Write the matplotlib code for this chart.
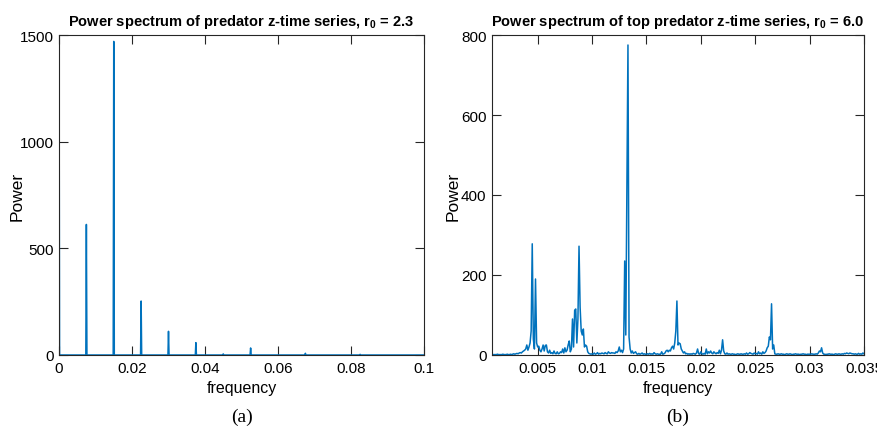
import numpy as np
import matplotlib
matplotlib.use("Agg")
import matplotlib.pyplot as plt

# ---------------- data: panel (a) ----------------
peak_freq_a = [0.0, 0.0075, 0.015, 0.0225, 0.030, 0.0375, 0.045, 0.0525, 0.0675, 0.0825]
peak_power_a = [1600, 612, 1470, 253, 111, 58, 5, 33, 8, 3]
xticks_a = [0, 0.02, 0.04, 0.06, 0.08, 0.1]
xticklabels_a = ["0", "0.02", "0.04", "0.06", "0.08", "0.1"]
yticks_a = [0, 500, 1000, 1500]

# ---------------- data: panel (b) ----------------
# power per 0.0001 frequency bin, one row per 0.001 of frequency (row k starts at k*0.001)
power_rows_b = [
    [1, 1, 1, 1, 1, 1, 1, 1, 1, 1],
    [1, 1, 1, 2, 1, 1, 1, 1, 2, 1],
    [1, 1, 2, 1, 1, 2, 1, 2, 3, 2],
    [3, 4, 3, 5, 6, 5, 8, 10, 12, 15],
    [25, 12, 20, 30, 60, 278, 40, 15, 190, 30],
    [20, 22, 12, 8, 15, 25, 10, 24, 25, 8],
    [5, 12, 4, 6, 3, 10, 4, 3, 8, 3],
    [4, 8, 6, 15, 5, 18, 8, 12, 25, 35],
    [8, 15, 90, 20, 112, 115, 30, 90, 272, 120],
    [60, 50, 65, 20, 25, 22, 8, 4, 3, 2],
    [3, 2, 5, 2, 3, 6, 2, 4, 3, 5],
    [4, 3, 6, 4, 3, 8, 5, 4, 6, 5],
    [5, 4, 8, 6, 10, 20, 8, 12, 6, 15],
    [235, 50, 420, 775, 45, 15, 5, 10, 4, 6],
    [8, 3, 2, 4, 2, 3, 5, 2, 3, 2],
    [2, 3, 2, 4, 2, 3, 2, 6, 3, 2],
    [3, 2, 2, 2, 8, 2, 3, 5, 10, 12],
    [8, 12, 10, 18, 22, 15, 30, 60, 135, 25],
    [30, 28, 15, 10, 5, 8, 3, 4, 2, 3],
    [2, 3, 2, 4, 3, 2, 5, 15, 3, 2],
    [8, 3, 2, 4, 2, 15, 3, 8, 5, 10],
    [5, 3, 8, 5, 3, 6, 4, 12, 3, 12],
    [38, 10, 3, 2, 5, 2, 3, 2, 2, 3],
    [2, 2, 1, 2, 3, 2, 2, 3, 2, 2],
    [3, 2, 5, 2, 3, 6, 4, 3, 2, 5],
    [3, 4, 2, 8, 3, 5, 2, 8, 4, 6],
    [10, 18, 22, 45, 38, 128, 15, 25, 3, 2],
    [2, 3, 2, 2, 3, 2, 2, 1, 2, 3],
    [2, 2, 3, 2, 1, 2, 2, 3, 2, 2],
    [2, 1, 2, 2, 3, 2, 2, 1, 2, 2],
    [2, 2, 3, 2, 2, 2, 3, 2, 5, 10],
    [8, 18, 5, 2, 2, 1, 2, 2, 3, 2],
    [2, 2, 1, 2, 3, 2, 2, 3, 2, 2],
    [3, 2, 4, 3, 5, 4, 3, 5, 4, 3],
    [3, 2, 3, 2, 2, 4, 2, 3, 2, 5],
]
power_last_b = [3]
bin_width_b = 0.0001
xticks_b = [0.005, 0.01, 0.015, 0.02, 0.025, 0.03, 0.035]
xticklabels_b = ["0.005", "0.01", "0.015", "0.02", "0.025", "0.03", "0.035"]
yticks_b = [0, 200, 400, 600, 800]

titles = ["Power spectrum of predator z-time series, r$_{\\mathregular{0}}$ = 2.3",
          "Power spectrum of top predator z-time series, r$_{\\mathregular{0}}$ = 6.0"]
panel_labels = ["(a)", "(b)"]

# ---------------- build line data ----------------
half_w = 0.00015
fa, pa = [], []
for f, p in zip(peak_freq_a, peak_power_a):
    if f == 0.0:
        fa += [f, f + half_w]
        pa += [p, 0]
    else:
        fa += [f - half_w, f, f + half_w]
        pa += [0, p, 0]
fa.append(0.1)
pa.append(0)

power_b = np.array([v for row in power_rows_b for v in row] + power_last_b, dtype=float)
freq_b = np.arange(len(power_b)) * bin_width_b

# ---------------- plotting ----------------
plt.rcParams['font.family'] = ['Liberation Sans', 'DejaVu Sans']
plt.rcParams['mathtext.fontset'] = 'custom'
plt.rcParams['mathtext.rm'] = 'Liberation Sans:bold'
blue = "#0072BD"

W, H = 877, 431
fig = plt.figure(figsize=(W / 100, H / 100), dpi=100)
ax_a = fig.add_axes([59 / W, (H - 356) / H, (424 - 59) / W, (356 - 36) / H])
ax_b = fig.add_axes([492 / W, (H - 356) / H, (864 - 492) / W, (356 - 36) / H])

ax_a.plot(fa, pa, color=blue, lw=1.1)
ax_a.set_xlim(0, 0.1)
ax_a.set_ylim(0, 1500)
ax_a.set_xticks(xticks_a)
ax_a.set_xticklabels(xticklabels_a)
ax_a.set_yticks(yticks_a)

ax_b.plot(freq_b, power_b, color=blue, lw=1.1)
ax_b.set_xlim(0.0008, 0.035)
ax_b.set_ylim(0, 800)
ax_b.set_xticks(xticks_b)
ax_b.set_xticklabels(xticklabels_b)
ax_b.set_yticks(yticks_b)

ylabel_centers_px = [17, 453]
for ax, title, lab, yc in zip([ax_a, ax_b], titles, panel_labels, ylabel_centers_px):
    ax.tick_params(direction='in', length=6.5, width=0.8, top=True, right=True,
                   labelsize=11, pad=4, color='#262626')
    for s in ax.spines.values():
        s.set_linewidth(0.8)
        s.set_color('#262626')
    ax.set_title(title, fontsize=10.5, fontweight='bold', pad=7)
    ax.set_xlabel("frequency", fontsize=11.5, labelpad=4)
    ax.set_ylabel("Power", fontsize=12.5, va='center')
    bb = ax.get_position()
    ax.yaxis.set_label_coords((yc / W - bb.x0) / bb.width, 0.5)
    fig.text((bb.x0 + bb.x1) / 2, 1 - 417 / H, lab, ha='center', va='center',
             fontsize=14, family=['Liberation Serif', 'DejaVu Serif'])

fig.savefig("out.png", dpi=100)
